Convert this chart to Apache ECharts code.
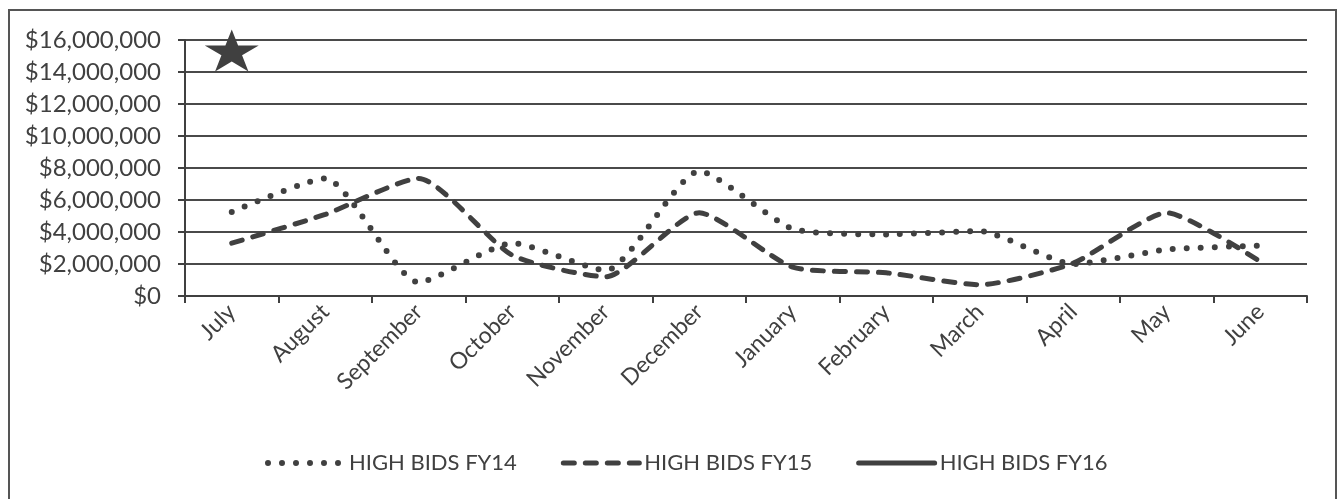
<!DOCTYPE html>
<html>
<head>
<meta charset="utf-8">
<script src="https://cdn.jsdelivr.net/npm/echarts@6/dist/echarts.min.js"></script>
<style>
html,body{margin:0;padding:0;background:#fff;}
#chart{width:1338px;height:499px;}
</style>
</head>
<body>
<div id="chart"></div>
<script>
const months = ['July','August','September','October','November','December','January','February','March','April','May','June'];
const fy14 = [5.25, 7.35, 0.85, 3.3, 1.6, 7.8, 4.2, 3.85, 4.05, 2.0, 2.9, 3.15];
const fy15 = [3.3, 5.1, 7.35, 2.55, 1.2, 5.2, 1.8, 1.45, 0.7, 2.05, 5.2, 2.15];
const fy16 = [15.35, null, null, null, null, null, null, null, null, null, null, null];
const yTicks = [0, 2, 4, 6, 8, 10, 12, 14, 16];
const seriesNames = ['HIGH BIDS FY14', 'HIGH BIDS FY15', 'HIGH BIDS FY16'];

const M = 1000000;
const toDollars = arr => arr.map(v => v == null ? null : v * M);
const ink = '#404040';
const font = 'Lato';
const starPath = 'path://M50,0 L61.2,34.5 L97.6,34.5 L68.2,55.9 L79.4,90.5 L50,69.1 L20.6,90.5 L31.8,55.9 L2.4,34.5 L38.8,34.5 Z';

const dotStyle = { color: ink, width: 6, type: [0, 14], cap: 'round' };
const dashStyle = { color: ink, width: 5, type: [11, 11], cap: 'round' };
const solidStyle = { color: ink, width: 5, type: 'solid', cap: 'round' };

const chart = echarts.init(document.getElementById('chart'));
chart.setOption({
  animation: false,
  backgroundColor: '#fff',
  textStyle: { fontFamily: font, color: ink },
  grid: { left: 185, right: 31, top: 40, bottom: 203, containLabel: false },
  xAxis: {
    type: 'category',
    data: months,
    boundaryGap: true,
    axisLine: { lineStyle: { color: ink, width: 2 } },
    axisTick: { show: true, length: 7, lineStyle: { color: ink, width: 2 } },
    axisLabel: { rotate: 45, fontSize: 23, color: ink, fontFamily: font, margin: 12, interval: 0 },
    splitLine: { show: false }
  },
  yAxis: {
    type: 'value',
    min: yTicks[0] * M,
    max: yTicks[yTicks.length - 1] * M,
    interval: 2 * M,
    axisLine: { show: true, lineStyle: { color: ink, width: 2 } },
    axisTick: { show: true, length: 7, lineStyle: { color: ink, width: 2 } },
    axisLabel: {
      fontSize: 24, color: ink, fontFamily: font, margin: 24,
      formatter: v => '$' + v.toLocaleString('en-US')
    },
    splitLine: { show: true, lineStyle: { color: '#4a4a4a', width: 2 } }
  },
  legend: {
    bottom: 20,
    left: 260,
    itemWidth: 76,
    itemHeight: 14,
    itemGap: 44,
    itemStyle: { opacity: 0 },
    textStyle: { fontSize: 22, color: ink, fontFamily: font },
    data: [
      { name: seriesNames[0], lineStyle: dotStyle },
      { name: seriesNames[1], lineStyle: dashStyle },
      { name: seriesNames[2], lineStyle: solidStyle }
    ]
  },
  graphic: [{
    type: 'rect',
    shape: { x: 9, y: 10, width: 1327, height: 520 },
    style: { fill: 'none', stroke: '#555', lineWidth: 2 },
    silent: true, z: -1
  }],
  series: [
    {
      name: seriesNames[0], type: 'line', data: toDollars(fy14),
      smooth: 0.2, symbol: 'none', showSymbol: false,
      lineStyle: dotStyle, itemStyle: { color: ink }
    },
    {
      name: seriesNames[1], type: 'line', data: toDollars(fy15),
      smooth: 0.2, symbol: 'none', showSymbol: false,
      lineStyle: dashStyle, itemStyle: { color: ink }
    },
    {
      name: seriesNames[2], type: 'line', data: toDollars(fy16),
      symbol: starPath, symbolSize: [54, 42], showSymbol: true,
      lineStyle: solidStyle, itemStyle: { color: ink }
    }
  ]
});
</script>
</body>
</html>
